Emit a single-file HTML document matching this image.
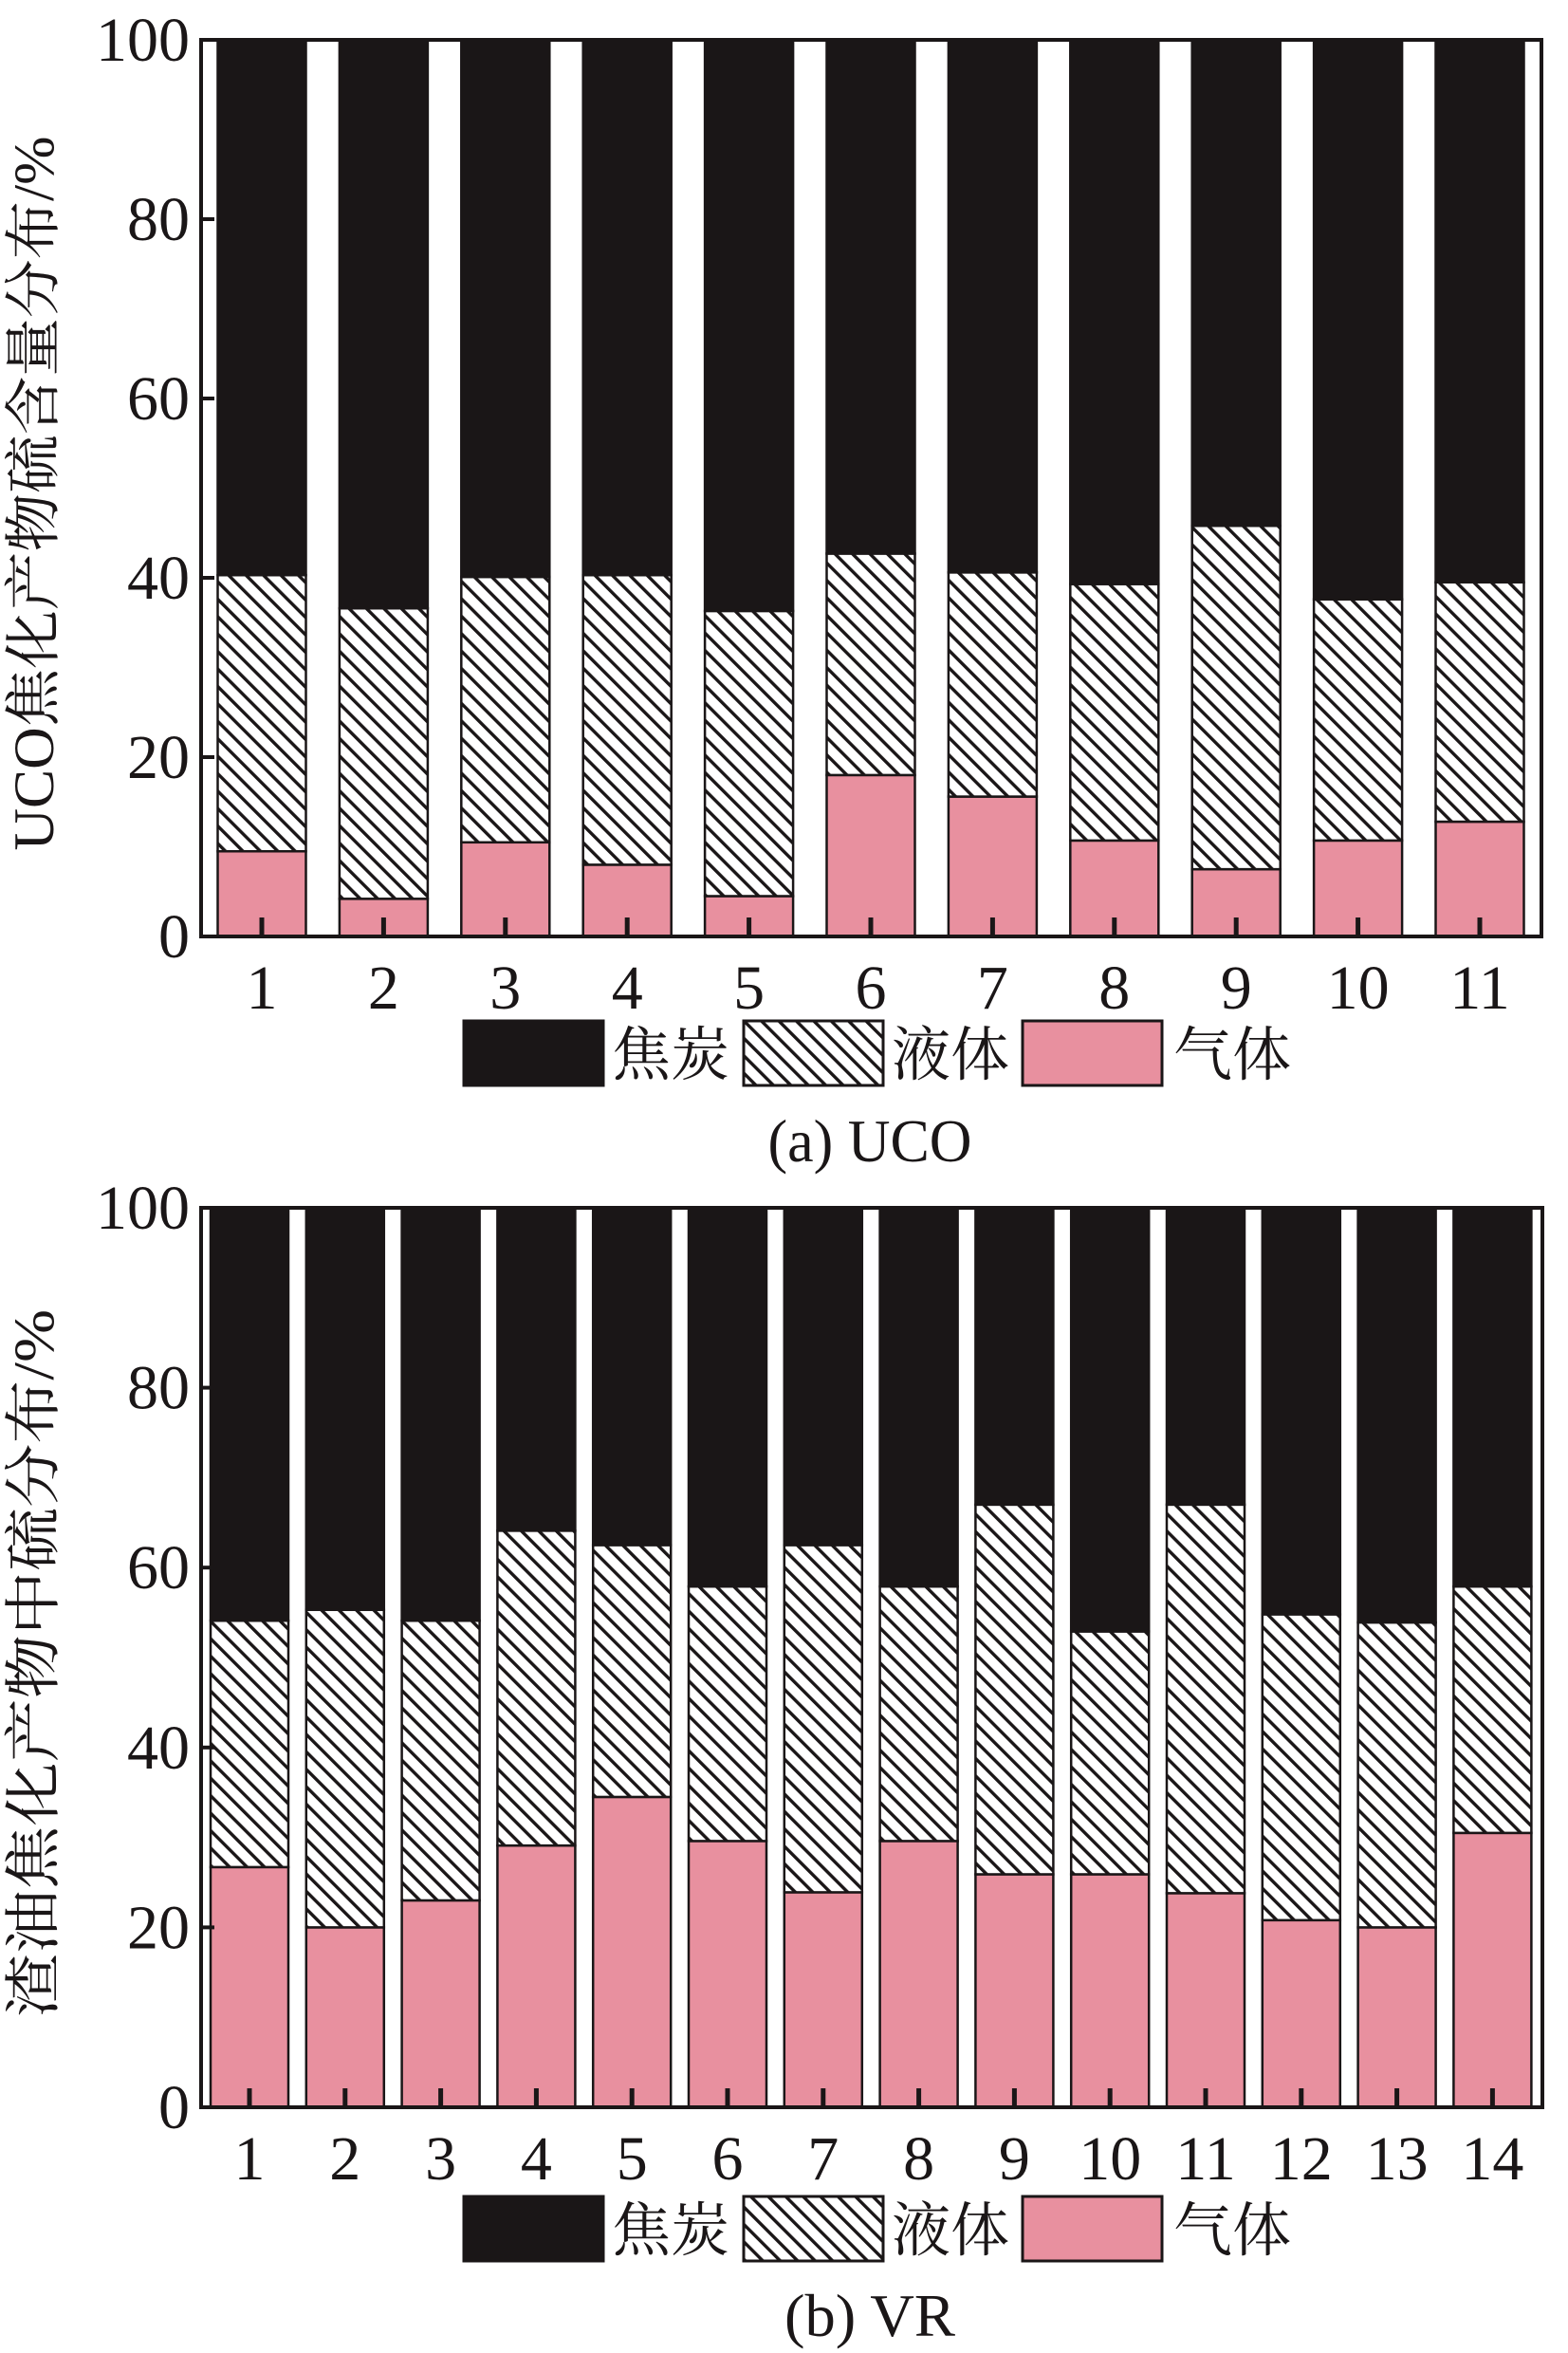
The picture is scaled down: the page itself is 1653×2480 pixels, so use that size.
<!DOCTYPE html>
<html><head><meta charset="utf-8">
<style>
html,body{margin:0;padding:0;background:#fff;}
svg{display:block;}
text{font-family:"Liberation Serif","Noto Serif CJK SC",serif;fill:#1a1617;}
</style></head>
<body>
<svg id="fig" width="1653" height="2480" viewBox="0 0 1653 2480" xmlns="http://www.w3.org/2000/svg">
<defs>
<pattern id="hatch" patternUnits="userSpaceOnUse" width="13" height="13" patternTransform="rotate(-45)">
<rect width="13" height="13" fill="#fff"/>
<rect x="0" y="0" width="3.4" height="13" fill="#1a1617"/>
</pattern>
</defs>
<g id="chartA"></g>
<g id="chartB"></g>
</svg>
<script>
// Chart (a) UCO data
const ucoCategories = ["1","2","3","4","5","6","7","8","9","10","11"];
const ucoGas = [9.5,4.2,10.5,8.0,4.5,18.0,15.6,10.7,7.5,10.7,12.8];
const ucoLiquid = [30.8,32.4,29.6,32.3,31.8,24.7,25.0,28.6,38.3,26.9,26.7];
const ucoCoke = [59.7,63.4,59.9,59.7,63.7,57.3,59.4,60.7,54.2,62.4,60.5];
// Chart (b) VR data
const vrCategories = ["1","2","3","4","5","6","7","8","9","10","11","12","13","14"];
const vrGas = [26.7,20.0,23.0,29.1,34.5,29.6,23.9,29.6,25.9,25.9,23.8,20.8,20.0,30.5];
const vrLiquid = [27.4,35.3,31.1,35.0,28.0,28.3,38.6,28.3,41.1,27.0,43.2,34.0,33.9,27.4];
const vrCoke = [45.9,44.7,45.9,35.9,37.5,42.1,37.5,42.1,33.0,47.1,33.0,45.2,46.1,42.1];
const yTicks = [0,20,40,60,80,100];
const legendLabels = ["焦炭","液体","气体"];

const NS="http://www.w3.org/2000/svg";
function mk(parent,tag,attrs,txt){
  const e=document.createElementNS(NS,tag);
  for(const k in attrs) e.setAttribute(k,attrs[k]);
  if(txt!==undefined) e.textContent=txt;
  parent.appendChild(e); return e;
}

function drawChart(g, cfg, cats, gas, liq, coke, yTitle, caption, key){
  const {L,R,T,B,first,pitch,bw}=cfg;
  const y=v=>B-(v/100)*(B-T);
  const xc=i=>first+i*pitch;
  cats.forEach((c,i)=>{
    const x0=xc(i)-bw/2;
    const segs=[[0,gas[i],"#e8909f","gas"],[gas[i],gas[i]+liq[i],"url(#hatch)","liquid"],[gas[i]+liq[i],gas[i]+liq[i]+coke[i],"#1a1617","coke"]];
    segs.forEach(s=>{
      const r=mk(g,"rect",{x:x0,y:y(s[1]),width:bw,height:y(s[0])-y(s[1]),fill:s[2],stroke:"#1a1617","stroke-width":2.5});
      
      
    });
    const tk=mk(g,"line",{x1:xc(i),x2:xc(i),y1:B,y2:B-20,stroke:"#1a1617","stroke-width":5});
    
    
    const tl=mk(g,"text",{x:xc(i),y:B+76,"font-size":66,"text-anchor":"middle"},c);
    
    
  });
  const fr=mk(g,"rect",{x:L,y:T,width:R-L,height:B-T,fill:"none",stroke:"#1a1617","stroke-width":4});
  
  
  yTicks.forEach(v=>{
    const t=mk(g,"text",{x:L-12,y:y(v)+22,"font-size":66,"text-anchor":"end"},String(v));
    
    
    const l=mk(g,"line",{x1:L,x2:L+14,y1:y(v),y2:y(v),stroke:"#1a1617","stroke-width":4});
    
    
  });
  const yt=mk(g,"text",{x:0,y:0,"font-size":60,"text-anchor":"middle",textLength:cfg.ylen,lengthAdjust:"spacingAndGlyphs",transform:`translate(${cfg.ytx},${cfg.yty}) rotate(-90)`},yTitle);
  
  
  const ly=cfg.ly;
  const fills=["#1a1617","url(#hatch)","#e8909f"];
  const bx=[489,784,1078], tx=[645,940,1237];
  legendLabels.forEach((lab,i)=>{
    const b=mk(g,"rect",{x:bx[i],y:ly,width:147,height:68,fill:fills[i],stroke:"#1a1617","stroke-width":3});
    
    
    const t=mk(g,"text",{x:tx[i],y:ly+57,"font-size":62},lab);
    
    
  });
  const cp=mk(g,"text",{x:917,y:cfg.cy,"font-size":64,"text-anchor":"middle",textLength:cfg.clen,lengthAdjust:"spacingAndGlyphs"},caption);
  
  
}

drawChart(document.getElementById("chartA"),
  {L:212,R:1625,T:42,B:987,first:276,pitch:128.4,bw:93,ytx:56,yty:520,ylen:753,ly:1076,cy:1224,clen:215},
  ucoCategories,ucoGas,ucoLiquid,ucoCoke,"UCO焦化产物硫含量分布/%","(a) UCO","uco");
drawChart(document.getElementById("chartB"),
  {L:212,R:1626,T:1273,B:2221,first:263,pitch:100.8,bw:82,ytx:56,yty:1753,ylen:746,ly:2315,cy:2462,clen:180},
  vrCategories,vrGas,vrLiquid,vrCoke,"渣油焦化产物中硫分布/%","(b) VR","vr");
</script>
</body></html>
